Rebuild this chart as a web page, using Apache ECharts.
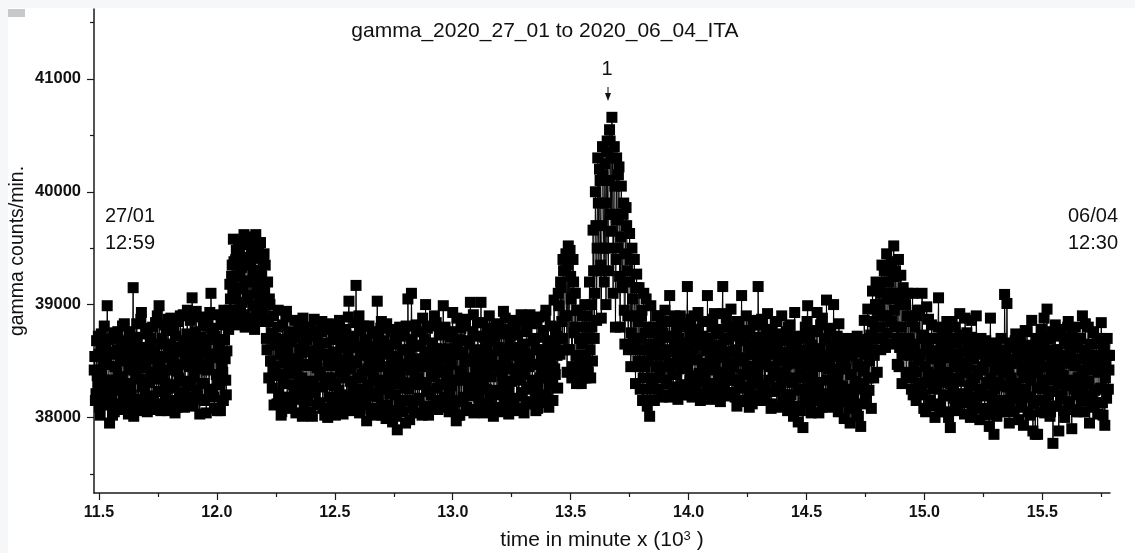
<!DOCTYPE html>
<html>
<head>
<meta charset="utf-8">
<title>gamma_2020_27_01 to 2020_06_04_ITA</title>
<script src="https://cdn.jsdelivr.net/npm/echarts@6/dist/echarts.min.js"></script>
<style>
  html, body { margin: 0; padding: 0; background: #f6f7f9; }
  #paper { position: absolute; left: 8px; top: 8px; width: 1127px; height: 545px; background: #fff; }
  #main { position: absolute; left: 0; top: 0; width: 1135px; height: 553px; }
</style>
</head>
<body>
<div id="paper"></div>
<div id="main"></div>
<script>
// time in minutes; readings every 5 min (counts*) plus the ones in between (half*)
const stepMin = 5;
const blockStart = [11480, 11980, 12480, 12980, 13480, 13980, 14480, 14980, 15480];

// gamma counts/min
const countsA = [
  38420,38150,38680,38300,38560,38020,38740,38250,38470,38110,
  38620,38990,38330,37950,38580,38210,38700,38050,38450,38280,
  38760,38120,38530,38360,38810,38080,38640,38230,38500,38030,
  38690,38270,38560,39150,38150,38420,38830,38060,38600,38340,
  38930,38100,38480,38250,38790,38050,38570,38310,38700,38140,
  38520,38380,38840,38070,38460,38990,38230,38650,38120,38540,
  38300,38770,38060,38600,38420,38880,38150,38510,38260,38720,
  38090,38580,38350,38900,38130,38470,38680,38220,38560,38950,
  38180,38640,38320,39060,38100,38530,38760,38240,38620,38430,
  38890,38160,38570,38300,38810,38040,38690,38470,38930,39100
];
const halfA = [
  38540,38210,38370,38720,38090,38630,38400,38180,38810,38290,
  38470,38690,38130,38560,38330,38020,38750,38450,38240,38600,
  38360,38070,38680,38510,38190,38830,38300,38580,38110,38420,
  38760,38200,38640,38010,38490,38350,38710,38160,38520,38870,
  38270,38620,38080,38440,38740,38310,38190,38660,38400,38800,
  38150,38570,38340,38900,38230,38480,38060,38700,38380,38820,
  38210,38530,38870,38100,38650,38290,38460,38780,38040,38590,
  38410,38850,38170,38620,38320,38910,38090,38540,38740,38280,
  38450,38860,38120,38690,38360,38580,38940,38200,38480,38030,
  38710,38300,38850,38150,38600,38420,38880,38220,38560,38790
];
const countsB = [
  38250,38780,38080,38560,38910,38300,38650,38060,38820,38400,
  38950,38520,38200,38870,38780,39180,38900,39350,39580,39050,
  39400,38820,39250,39500,38950,39330,39140,39620,38800,39420,
  39050,39560,39200,38880,39480,39300,38780,39620,39100,39410,
  38850,39550,39250,39000,39450,39350,38700,39200,38350,39000,
  38500,38260,38900,38450,38700,38120,38950,38380,38640,38050,
  38820,38310,38560,38940,38180,38730,38420,38090,38670,38290,
  38860,38040,38510,38750,38230,38600,38350,38880,38070,38470,
  38690,38150,38580,38320,38800,38010,38540,38260,38720,38440,
  38110,38630,38370,38850,38080,38560,38290,38780,38000,38480
];
const halfB = [
  38530,38180,38720,38380,38060,38620,38290,38840,38470,38150,
  38690,38330,38590,38900,38950,39050,39250,39100,39380,38950,
  39480,39150,38860,39290,39560,39020,39400,38910,39210,39530,
  39080,38830,39350,39600,38990,39260,39450,38900,39180,39520,
  39030,39300,38920,39400,39120,39000,38600,38850,39050,38500,
  38750,38440,38110,38640,38370,38800,38210,38560,38020,38690,
  38300,38480,38890,38140,38610,38390,38760,38080,38520,38250,
  38710,38430,38160,38840,38340,38570,38010,38650,38280,38790,
  38190,38460,38730,38050,38590,38320,38870,38220,38500,38680,
  38130,38400,38760,38270,38550,38020,38660,38350,38830,38180
];
const countsC = [
  38350,38820,38060,38570,38280,38740,38130,38490,38860,38200,
  38620,38030,38450,38780,38170,38560,39030,38320,38700,38100,
  38500,38840,39170,38250,38630,38040,38770,38380,38590,38150,
  38690,37970,38430,38810,38210,38560,38060,38740,38330,38620,
  39030,38180,38510,38790,38020,38450,38680,38260,38830,38110,
  38570,38340,38760,37960,38490,38200,38650,37890,38420,38800,
  38130,38600,38310,38730,37950,38470,39050,38250,38550,39100,
  38080,38640,38370,38820,38150,38520,38290,38760,38020,38480,
  38690,39000,38230,38580,38100,38810,38360,38650,38070,38530,
  38840,38260,38600,38120,38750,38400,38990,38180,38560,38300
];
const halfC = [
  38460,38130,38690,38300,38020,38580,38810,38240,38400,38660,
  38090,38510,38350,38740,38190,38890,38430,38060,38620,38280,
  38720,38160,38480,38350,38900,38070,38550,38230,38810,38410,
  38120,38640,38290,38500,38080,38760,38380,38190,38590,38020,
  38460,38700,38250,38850,38110,38560,38330,37990,38640,38420,
  38210,38780,38060,38490,38300,38670,38010,38540,38150,38380,
  38720,38050,38470,38260,38810,38150,38600,37980,38420,38690,
  38300,38500,38040,38760,38350,38170,38630,38450,38880,38100,
  38540,38310,38790,38020,38460,38200,38660,38380,38900,38150,
  38610,38070,38470,38730,38290,38560,38090,38800,38340,38520
];
const countsD = [
  38420,38050,38710,38280,38930,38150,38560,37970,38640,38330,
  38020,38790,38410,38180,38870,38500,38090,38680,38260,39020,
  38350,38760,38040,38590,38230,38840,38470,38120,39020,38560,
  38300,38710,38080,38620,38390,38900,38160,38530,38750,38240,
  38680,38090,38460,38820,38200,38590,38370,38940,38110,38520,
  38780,38250,38610,38070,38430,38860,38170,38550,38330,38730,
  38080,38480,38910,38220,38650,38380,38120,38790,38270,38560,
  38840,38140,38470,38700,38230,38600,38080,38890,38350,38520,
  38190,38770,38410,38950,38130,38640,38290,38810,38450,38150,
  39040,38380,38720,38260,38990,38560,39150,38700,39300,38900
];
const halfD = [
  38610,38240,38470,38760,38100,38560,38330,38880,38020,38690,
  38400,38140,38580,38350,38810,38060,38500,38270,38650,38190,
  38520,38910,38300,38430,38070,38720,38180,38600,38380,38840,
  38040,38480,38250,38790,38110,38550,38360,38680,38010,38460,
  38830,38220,38620,38050,38410,38740,38290,38510,38880,38160,
  38450,38030,38700,38320,38570,38130,38790,38400,38060,38620,
  38350,38860,38190,38480,38040,38560,38760,38250,38450,38910,
  38120,38330,38680,38470,38060,38830,38280,38600,38150,38440,
  38710,38350,38900,38200,38560,38090,38470,38680,38300,38620,
  38430,38800,38550,39100,38700,39200,38850,39400,38600,39300
];
const countsE = [
  39450,38400,39520,38600,39250,38350,39400,38750,39100,38300,
  38950,38500,38700,38300,38900,38450,39000,38350,38800,38400,
  39200,38350,38800,39660,38700,40000,38860,40300,39300,40100,
  38880,40400,39500,40250,39000,40450,39300,40550,39800,40660,
  39100,40400,38800,40300,39500,40220,38800,40050,39200,39900,
  38650,39860,39300,38600,39630,38450,39500,38700,39400,38300,
  39270,38500,39150,38250,38900,38150,39100,38450,39050,38100,
  38800,38010,38990,38300,38750,38150,38600,38900,38250,38680,
  38420,38820,38180,38560,38950,38330,38710,38200,39080,38470,
  38850,38240,38620,38380,38790,38160,38540,38900,38280,38660
];
const halfE = [
  38900,39350,38600,39480,39050,38450,39200,38800,38550,38950,
  38400,38700,38500,38650,38350,38800,38550,38900,38450,38700,
  38600,39000,38500,39300,39100,39700,39500,39900,40200,39350,
  39700,40150,39200,39900,40350,39500,40100,40450,39650,40300,
  39800,40050,39400,39750,40150,39250,39600,39150,39800,38950,
  39450,39700,38900,39200,39400,38750,39050,38650,38900,39150,
  38600,38850,38450,38700,38950,38350,38600,38750,38250,38500,
  38150,38650,38350,38550,38800,38250,38450,38650,38900,38350,
  38550,38200,38750,38450,38850,38300,38600,38180,38480,38720,
  38380,38580,38900,38270,38490,38700,38220,38820,38430,38550
];
const countsF = [
  38450,38800,38200,39160,38620,38330,38870,38180,38540,38760,
  38250,38680,38930,38390,38150,38720,38480,38850,38210,38600,
  39080,38300,38650,38170,38800,38450,38920,38230,38580,38360,
  38780,38140,38640,39160,38270,38530,38880,38190,38700,38410,
  38960,38220,38590,38330,38760,38100,38510,38850,38260,39080,
  38380,38690,38150,38900,38450,38230,38730,38560,38120,38820,
  38300,38640,38480,39160,38200,38580,38870,38250,38700,38150,
  38560,38920,38330,38640,38080,38770,38420,38230,38850,38100,
  38500,38690,38270,38900,38140,38580,38380,38760,38060,38490,
  38820,38200,38630,38010,38930,38350,38560,37960,38700,38250
];
const halfF = [
  38620,38290,38830,38460,38200,38710,38370,38560,38900,38250,
  38510,38780,38320,38640,38170,38470,38850,38380,38590,38230,
  38700,38420,38160,38550,38870,38300,38490,38740,38200,38640,
  38400,38560,38920,38260,38690,38350,38480,38800,38220,38580,
  38330,38720,38450,38180,38600,38850,38290,38530,38680,38140,
  38500,38270,38770,38410,38630,38090,38560,38340,38860,38450,
  38200,38710,38380,38560,38820,38150,38470,38640,38290,38530,
  38780,38230,38450,38690,38120,38560,38370,38850,38260,38610,
  38400,38090,38740,38330,38520,38680,38200,38470,38800,38150,
  38560,38310,38720,38100,38480,38640,38240,38520,38060,38400
];
const countsG = [
  38600,37910,38450,38800,38200,38990,38350,38680,38040,38520,
  38770,38150,38600,38930,38260,38480,38820,38090,38550,38700,
  38210,39040,38430,38760,38120,38600,38300,39000,38180,38540,
  38720,38050,38430,38650,38230,38700,37990,38480,38620,38150,
  38560,37950,38380,38700,38120,38590,38280,38720,38010,38450,
  37920,38650,38300,38860,38150,38580,38960,38240,38700,38080,
  39120,38350,38800,39200,38400,38950,39000,38600,39350,38700,
  39300,38620,39450,38900,39200,38650,39380,39050,39520,38800,
  39250,38470,39400,38620,39260,38300,39150,38700,39000,38350,
  39100,38600,38900,38250,39100,38450,38800,38150,38950,38550
];
const halfG = [
  38350,38720,38140,38560,38850,38270,38480,38060,38640,38390,
  38200,38540,38760,38310,38040,38610,38450,38880,38180,38520,
  38690,38330,38090,38470,38790,38240,38580,38410,38120,38660,
  38370,38830,38200,38500,38280,38590,38140,38430,38250,38660,
  38080,38380,38550,38200,38620,38320,38030,38470,38580,38250,
  38660,38120,38410,38560,38220,38690,38350,38500,38730,38600,
  38850,38550,39000,38700,38950,39150,38800,39100,38900,38700,
  38900,39200,38750,39050,39350,38850,39100,39250,38950,39300,
  38700,39100,38450,39000,38800,38550,39050,38650,38400,38900,
  38700,38350,38550,38850,38200,38650,38400,38900,38300,38500
];
const countsH = [
  38950,38300,39100,38200,38700,38050,38980,38400,38600,38150,
  38820,38250,38550,38000,38700,38350,39060,38120,38480,38780,
  38200,38600,38050,38850,38330,38530,37910,38700,38260,38450,
  38800,38090,38560,38320,38920,38150,38480,38690,38030,38400,
  38750,38200,38530,38000,38860,38300,38620,38120,38900,38380,
  38580,37980,38700,38250,38450,38060,38680,38310,38520,37920,
  38880,38200,38600,37850,38420,38650,38130,38500,38050,38700,
  38280,38550,39090,38100,39010,38400,37950,38620,38220,38480,
  38050,38680,38300,38550,37980,38700,38150,38420,37930,38600,
  38250,38760,38050,38500,38180,38860,37880,38400,37850,38650
];
const halfH = [
  38560,38240,38730,38080,38450,38640,38310,38870,38150,38520,
  38380,38700,38100,38590,38260,38800,38430,38050,38680,38310,
  38540,38190,38760,38400,38000,38620,38300,38850,38170,38500,
  38350,38660,38060,38480,38730,38210,38590,38400,38880,38130,
  38450,38610,38280,38710,38060,38520,38350,38180,38650,38420,
  38240,38560,38080,38420,38640,38190,38500,38300,38020,38600,
  38350,38110,38540,38250,38660,38010,38430,38310,38560,38150,
  38400,38050,38600,38270,38480,38140,38660,38350,38060,38520,
  38300,38740,38160,38480,38620,38240,38090,38550,38350,38770,
  38180,38450,38640,38020,38330,38580,38120,38480,38700,38260
];
const countsI = [
  37850,38500,38150,38780,38320,38620,38040,38450,38960,38200,
  38700,38050,38520,37770,38380,38820,38100,38600,37880,38450,
  38780,38200,38550,38000,38700,38300,38850,38120,38480,37900,
  38650,38250,38800,38050,38520,38340,38700,38150,38900,38420,
  38050,38600,38300,38800,37950,38520,38200,38750,38100,38450,
  38650,38030,38540,38250,38840,38130,38600,37930,38480,38700,
  38250,38550
];
const halfI = [
  38400,38650,38050,38550,38250,38880,38120,38700,38330,38580,
  38010,38420,38760,38230,38600,38100,38490,38300,38720,38160,
  38530,38370,38060,38650,38280,38800,38140,38560,38330,38720,
  38070,38460,38200,38620,38350,38050,38700,38410,38260,38580,
  38830,38180,38490,38320,38650,38090,38420,38760,38240,38550,
  38130,38400,38700,38260,38480,38020,38620,38350,38170,38550,
  38420,38700
];

const xTickLabels = [11.5, 12.0, 12.5, 13.0, 13.5, 14.0, 14.5, 15.0, 15.5];
const xMinorTicks = [11.75, 12.25, 12.75, 13.25, 13.75, 14.25, 14.75, 15.25, 15.75];
const yTickLabels = [38000, 39000, 40000, 41000];
const yMinorTicks = [37500, 38500, 39500, 40500, 41500];

const blocks = [countsA, countsB, countsC, countsD, countsE, countsF, countsG, countsH, countsI];
const halves = [halfA, halfB, halfC, halfD, halfE, halfF, halfG, halfH, halfI];
let points = [];
blocks.forEach(function (arr, b) {
  arr.forEach(function (v, i) {
    points.push([(blockStart[b] + i * stepMin) / 1000, v]);
  });
  halves[b].forEach(function (v, i) {
    points.push([(blockStart[b] + stepMin / 2 + i * stepMin) / 1000, v]);
  });
});
points.sort(function (a, b) { return a[0] - b[0]; });

const font = 'Liberation Sans, Arial, sans-serif';
const axisColor = '#1a1a1a';

const chart = echarts.init(document.getElementById('main'));
chart.setOption({
  animation: false,
  backgroundColor: 'transparent',
  grid: { left: 94, right: 25, top: 9, bottom: 60 },
  xAxis: [{
    type: 'value',
    min: 11.479,
    max: 15.787,
    axisLine: { show: true, lineStyle: { color: axisColor, width: 1.5 } },
    axisTick: { show: true, customValues: xTickLabels, length: 7, lineStyle: { color: axisColor, width: 1.2 } },
    axisLabel: {
      customValues: xTickLabels, margin: 12,
      formatter: function (v) { return v.toFixed(1); },
      color: '#111', fontSize: 16, fontWeight: 'bold', fontFamily: font
    },
    splitLine: { show: false }
  }, {
    type: 'value',
    position: 'bottom',
    min: 11.479,
    max: 15.787,
    axisLine: { show: false },
    axisTick: { show: true, customValues: xMinorTicks, length: 4, lineStyle: { color: axisColor, width: 1.2 } },
    axisLabel: { show: false },
    splitLine: { show: false }
  }],
  yAxis: [{
    type: 'value',
    min: 37330,
    max: 41620,
    axisLine: { show: true, lineStyle: { color: axisColor, width: 1.5 } },
    axisTick: { show: true, customValues: yTickLabels, length: 7, lineStyle: { color: axisColor, width: 1.2 } },
    axisLabel: {
      customValues: yTickLabels, margin: 13,
      formatter: function (v) { return String(v); },
      color: '#111', fontSize: 16.5, fontWeight: 'bold', fontFamily: font
    },
    splitLine: { show: false }
  }, {
    type: 'value',
    position: 'left',
    min: 37330,
    max: 41620,
    axisLine: { show: false },
    axisTick: { show: true, customValues: yMinorTicks, length: 4, lineStyle: { color: axisColor, width: 1.2 } },
    axisLabel: { show: false },
    splitLine: { show: false }
  }],
  series: [{
    // thin line joining the readings
    type: 'line',
    xAxisIndex: 0,
    yAxisIndex: 0,
    data: points,
    symbol: 'none',
    lineStyle: { color: '#000', width: 1 },
    emphasis: { disabled: true }
  }, {
    // square markers
    type: 'scatter',
    xAxisIndex: 0,
    yAxisIndex: 0,
    data: points,
    symbol: 'rect',
    symbolSize: 11,
    large: false,
    itemStyle: { color: '#000', borderWidth: 0, opacity: 1 },
    emphasis: { disabled: true }
  }],
  graphic: [
    { type: 'rect', left: 8, top: 9, shape: { width: 17, height: 8 }, style: { fill: '#c9c9c9' } },
    { type: 'text', x: 545, y: 31, style: { text: 'gamma_2020_27_01 to 2020_06_04_ITA', fontSize: 21, fontFamily: font, fill: '#111', align: 'center', verticalAlign: 'middle' } },
    { type: 'text', x: 18, y: 251, rotation: Math.PI / 2, style: { text: 'gamma counts/min.', fontSize: 19.5, fontFamily: font, fill: '#111', align: 'center', verticalAlign: 'middle' } },
    { type: 'text', x: 602, y: 540, style: {
        text: 'time in minute x (10{sup|3} )', fontSize: 21, fontFamily: font, fill: '#111', align: 'center', verticalAlign: 'middle',
        rich: { sup: { fontSize: 13, fontFamily: font, fill: '#111', verticalAlign: 'top' } }
      } },
    { type: 'text', x: 105, y: 216, style: { text: '27/01', fontSize: 20, fontFamily: font, fill: '#111', verticalAlign: 'middle' } },
    { type: 'text', x: 105, y: 243, style: { text: '12:59', fontSize: 20, fontFamily: font, fill: '#111', verticalAlign: 'middle' } },
    { type: 'text', x: 1068, y: 216, style: { text: '06/04', fontSize: 20, fontFamily: font, fill: '#111', verticalAlign: 'middle' } },
    { type: 'text', x: 1068, y: 243, style: { text: '12:30', fontSize: 20, fontFamily: font, fill: '#111', verticalAlign: 'middle' } },
    { type: 'text', x: 607, y: 69, style: { text: '1', fontSize: 20, fontFamily: font, fill: '#111', align: 'center', verticalAlign: 'middle' } },
    { type: 'line', shape: { x1: 608, y1: 87, x2: 608, y2: 96 }, style: { stroke: '#111', lineWidth: 1 } },
    { type: 'polygon', shape: { points: [[605, 93], [611, 93], [608, 101]] }, style: { fill: '#111' } }
  ]
});
</script>
</body>
</html>
